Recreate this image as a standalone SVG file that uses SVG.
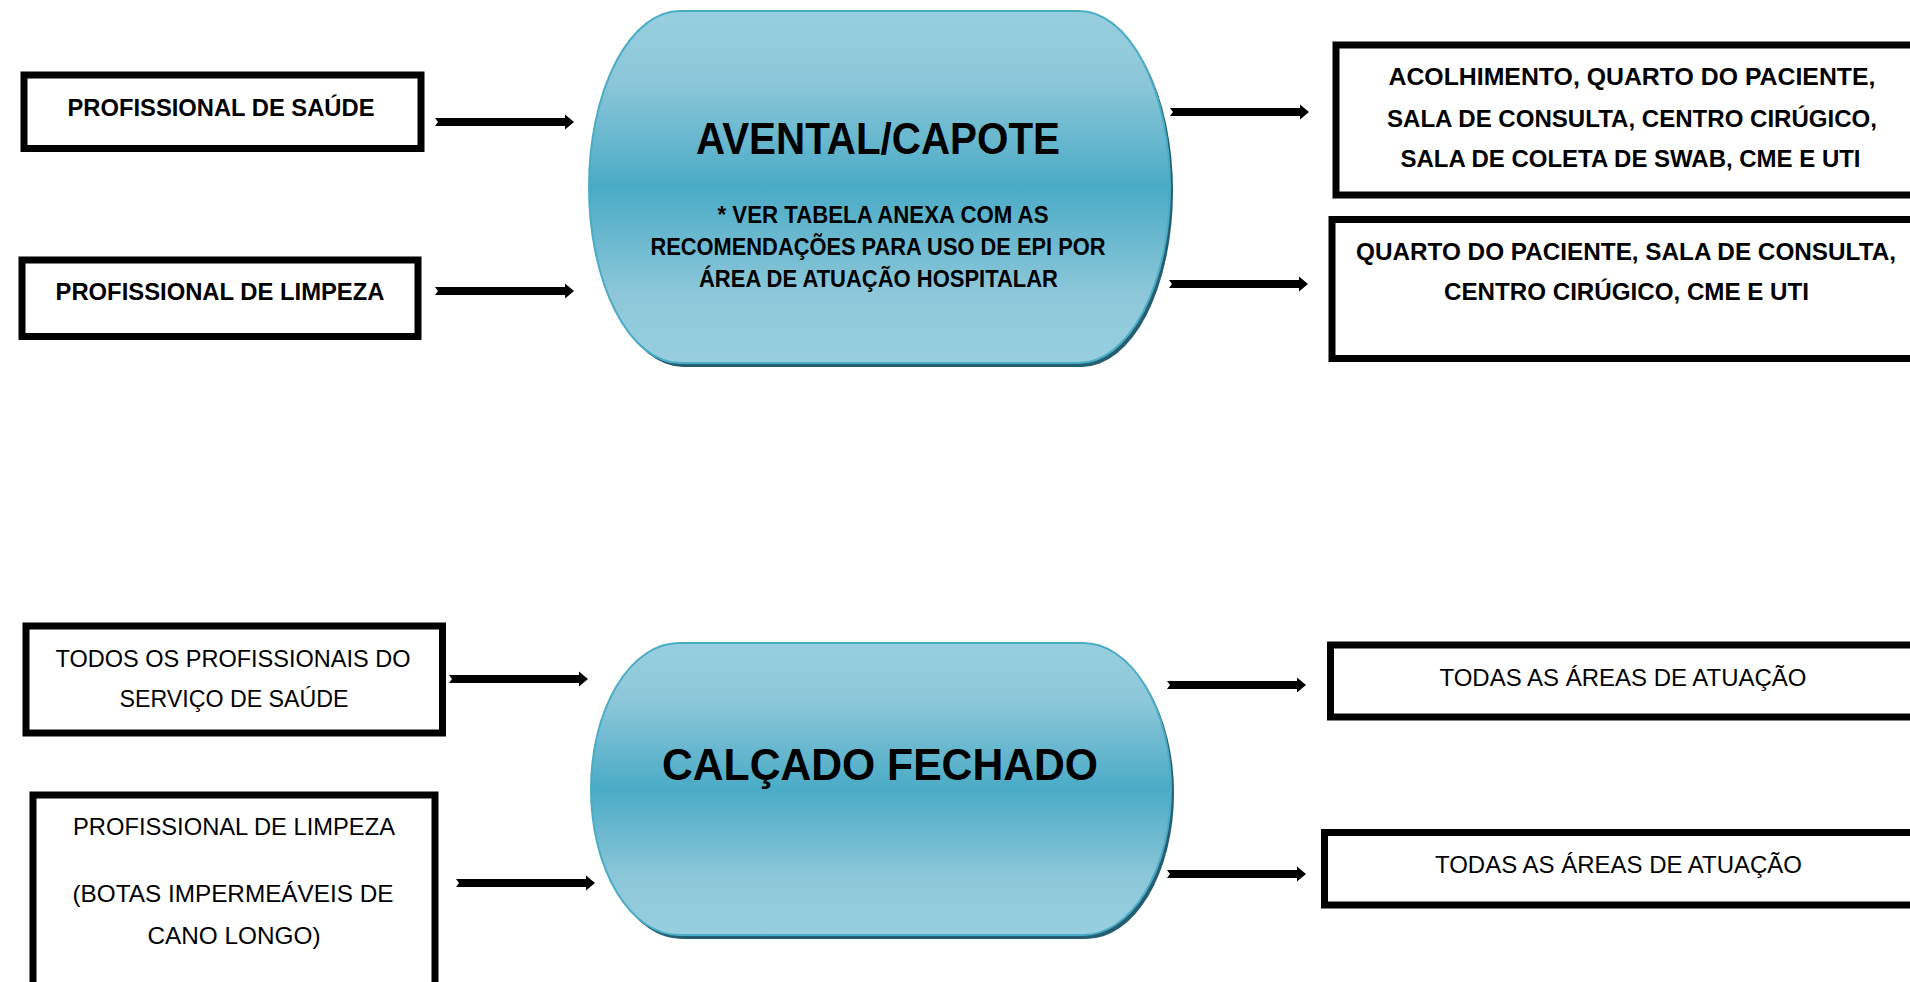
<svg xmlns="http://www.w3.org/2000/svg" xmlns:xlink="http://www.w3.org/1999/xlink" width="1910" height="982" viewBox="0 0 1910 982">
  <style>
    .box { fill: #ffffff; stroke: #000000; stroke-width: 7; }
    .t { font-family: "Liberation Sans", Arial, sans-serif; font-size: 24px; fill: #000; text-anchor: middle; }
    .b { font-weight: bold; }
    .title { font-family: "Liberation Sans", Arial, sans-serif; font-weight: bold; font-size: 44px; fill: #000; text-anchor: middle; }
    .pill { fill: url(#pillGrad); stroke: #4aacc6; stroke-width: 2; }
    .shadow { fill: #245e70; }
    .arrow { fill: #000; }
  </style>
  <defs>
    <linearGradient id="pillGrad" x1="0" y1="0" x2="0" y2="1">
      <stop offset="0" stop-color="#97cfdf"/>
      <stop offset="0.2" stop-color="#8cc7d9"/>
      <stop offset="0.5" stop-color="#4aabc6"/>
      <stop offset="0.8" stop-color="#8cc7d9"/>
      <stop offset="1" stop-color="#97cfdf"/>
    </linearGradient>
    <path id="arr" d="M0,-4 L130,-4 L130,-7.5 L139,0 L130,7.5 L130,4 L0,4 L3,0 Z"/>
  </defs>

  <g id="connectors">
    <use xlink:href="#arr" href="#arr" class="arrow" x="435" y="122"/>
    <use xlink:href="#arr" href="#arr" class="arrow" x="435" y="291"/>
    <use xlink:href="#arr" href="#arr" class="arrow" x="1170" y="112"/>
    <use xlink:href="#arr" href="#arr" class="arrow" x="1169" y="284"/>
    <use xlink:href="#arr" href="#arr" class="arrow" x="449" y="679"/>
    <use xlink:href="#arr" href="#arr" class="arrow" x="456" y="883"/>
    <use xlink:href="#arr" href="#arr" class="arrow" x="1167" y="685"/>
    <use xlink:href="#arr" href="#arr" class="arrow" x="1167" y="874"/>
  </g>

  <g id="node-profissional-saude">
    <rect class="box" x="24" y="75" width="397" height="73.5"/>
    <text class="t b" x="221" y="116" textLength="307" lengthAdjust="spacingAndGlyphs">PROFISSIONAL DE SAÚDE</text>
  </g>

  <g id="node-profissional-limpeza">
    <rect class="box" x="22" y="260" width="396" height="76.5"/>
    <text class="t b" x="220" y="300" textLength="329" lengthAdjust="spacingAndGlyphs">PROFISSIONAL DE LIMPEZA</text>
  </g>

  <g id="node-avental">
    <rect class="shadow" x="592" y="15" width="581" height="352" rx="91" ry="176"/>
    <rect class="pill" x="589" y="11" width="581" height="352" rx="91" ry="176"/>
    <text class="title" x="878" y="154" textLength="364" lengthAdjust="spacingAndGlyphs">AVENTAL/CAPOTE</text>
    <text class="t b" x="883" y="223" textLength="331" lengthAdjust="spacingAndGlyphs">* VER TABELA ANEXA COM AS</text>
    <text class="t b" x="878" y="255" textLength="455" lengthAdjust="spacingAndGlyphs">RECOMENDAÇÕES PARA USO DE EPI POR</text>
    <text class="t b" x="878.5" y="287" textLength="359" lengthAdjust="spacingAndGlyphs">ÁREA DE ATUAÇÃO HOSPITALAR</text>
  </g>

  <g id="node-areas-saude">
    <rect class="box" x="1336" y="45" width="600" height="150"/>
    <text class="t b" x="1632" y="85" textLength="487" lengthAdjust="spacingAndGlyphs">ACOLHIMENTO, QUARTO DO PACIENTE,</text>
    <text class="t b" x="1632" y="127" textLength="490" lengthAdjust="spacingAndGlyphs">SALA DE CONSULTA, CENTRO CIRÚGICO,</text>
    <text class="t b" x="1630.5" y="167" textLength="460" lengthAdjust="spacingAndGlyphs">SALA DE COLETA DE SWAB, CME E UTI</text>
  </g>

  <g id="node-areas-limpeza">
    <rect class="box" x="1332" y="219.5" width="600" height="139"/>
    <text class="t b" x="1626" y="260" textLength="540" lengthAdjust="spacingAndGlyphs">QUARTO DO PACIENTE, SALA DE CONSULTA,</text>
    <text class="t b" x="1626.5" y="300" textLength="365" lengthAdjust="spacingAndGlyphs">CENTRO CIRÚGICO, CME E UTI</text>
  </g>

  <g id="node-todos-profissionais">
    <rect class="box" x="26" y="626" width="416.5" height="107"/>
    <text class="t" x="233" y="667" textLength="355" lengthAdjust="spacingAndGlyphs">TODOS OS PROFISSIONAIS DO</text>
    <text class="t" x="234" y="707" textLength="229" lengthAdjust="spacingAndGlyphs">SERVIÇO DE SAÚDE</text>
  </g>

  <g id="node-limpeza-botas">
    <rect class="box" x="33" y="795" width="402" height="210"/>
    <text class="t" x="234" y="835" textLength="322" lengthAdjust="spacingAndGlyphs">PROFISSIONAL DE LIMPEZA</text>
    <text class="t" x="233" y="902" textLength="321" lengthAdjust="spacingAndGlyphs">(BOTAS IMPERMEÁVEIS DE</text>
    <text class="t" x="234" y="944" textLength="173" lengthAdjust="spacingAndGlyphs">CANO LONGO)</text>
  </g>

  <g id="node-calcado">
    <rect class="shadow" x="594" y="647" width="580" height="292" rx="88" ry="146"/>
    <rect class="pill" x="591" y="643" width="580" height="292" rx="88" ry="146"/>
    <text class="title" x="880" y="780" textLength="436" lengthAdjust="spacingAndGlyphs">CALÇADO FECHADO</text>
  </g>

  <g id="node-todas-areas-1">
    <rect class="box" x="1330.5" y="645" width="600" height="72"/>
    <text class="t" x="1623" y="686" textLength="367" lengthAdjust="spacingAndGlyphs">TODAS AS ÁREAS DE ATUAÇÃO</text>
  </g>

  <g id="node-todas-areas-2">
    <rect class="box" x="1324.5" y="832.5" width="600" height="72.5"/>
    <text class="t" x="1618.5" y="873" textLength="367" lengthAdjust="spacingAndGlyphs">TODAS AS ÁREAS DE ATUAÇÃO</text>
  </g>
</svg>
